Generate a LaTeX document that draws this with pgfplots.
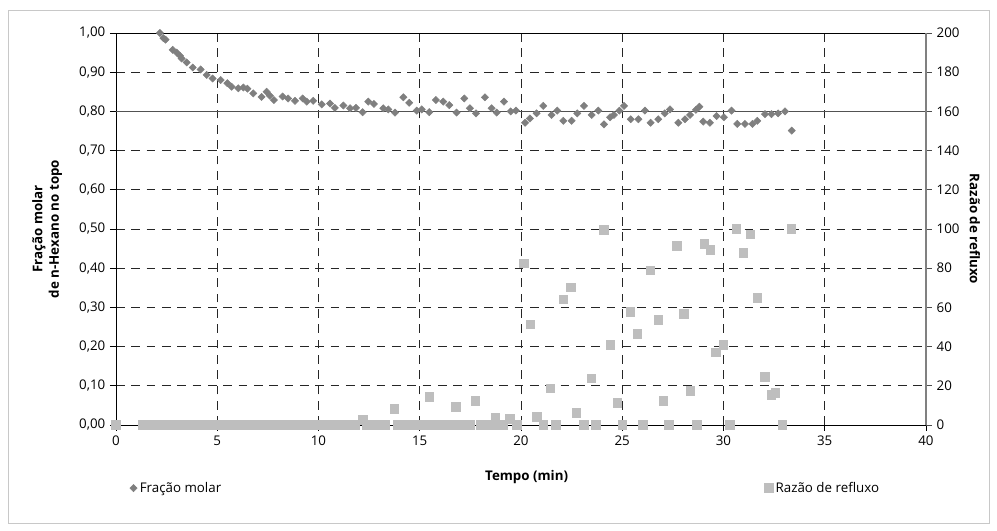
\documentclass[border=0pt]{standalone}
\usepackage{fontspec}
\setmainfont{Open Sans}
\usepackage{pgfplots}
\pgfplotsset{compat=1.18}
\definecolor{diam}{HTML}{7F7F7F}
\definecolor{sqr}{HTML}{BEBEBE}
\definecolor{frame}{HTML}{C8C8C8}
\begin{document}
\begin{tikzpicture}[font=\fontsize{10}{12}\selectfont]
\begin{axis}[
  scale only axis, width=607.5pt, height=294pt,
  xmin=0, xmax=40, ymin=0, ymax=1,
  axis x line*=bottom, axis y line*=left,
  axis line style={-, black, line width=0.6pt},
  xtick={0,5,10,15,20,25,30,35,40},
  ytick={0,0.1,0.2,0.3,0.4,0.5,0.6,0.7,0.8,0.9,1.0},
  yticklabel style={/pgf/number format/.cd, fixed, fixed zerofill, precision=2, use comma},
  /pgf/number format/assume math mode=true,
  tick label style={font=\fontsize{10}{12}\selectfont},
  tick align=outside, major tick length=4.5pt,
  tick style={black, line width=0.6pt},
  grid=major,
  major grid style={black!85, dash pattern=on 6.5pt off 5pt, line width=0.6pt},
  clip=false,
  xlabel={Tempo (min)},
  xlabel style={font=\fontsize{10}{12}\selectfont\bfseries, at={(rel axis cs:0.507,-0.133)}, anchor=center},
  ylabel={Fração molar\\de n-Hexano no topo},
  ylabel style={font=\fontsize{10}{12.5}\selectfont\bfseries, align=center, at={(rel axis cs:-0.085,0.5)}, anchor=center},
  legend style={draw=none, fill=none, at={(rel axis cs:0.012,-0.161)}, anchor=west, font=\fontsize{10}{12}\selectfont},
]
\draw[black, line width=0.6pt] (rel axis cs:0,1) -- (rel axis cs:1,1);
\addplot[only marks, mark=square*, mark size=1.9pt, color=diam, mark options={rotate=45, fill=diam, draw=diam}] coordinates {
(2.17,1.000) (2.34,0.987) (2.45,0.983) (2.80,0.957) (3.00,0.950) (3.16,0.942) (3.24,0.935)
(3.49,0.925) (3.79,0.912) (4.18,0.907) (4.48,0.893) (4.77,0.884) (5.17,0.880) (5.50,0.872)
(5.71,0.863) (6.04,0.859) (6.29,0.861) (6.49,0.858) (6.78,0.846) (7.19,0.837) (7.44,0.850)
(7.60,0.840) (7.80,0.829) (8.23,0.838) (8.50,0.833) (8.84,0.827) (9.22,0.833) (9.42,0.825)
(9.74,0.827) (10.16,0.818) (10.57,0.820) (10.81,0.809) (11.23,0.815) (11.56,0.808) (11.85,0.809)
(12.18,0.798) (12.46,0.825) (12.74,0.819) (13.20,0.808) (13.45,0.805) (13.78,0.797) (14.19,0.836)
(14.48,0.822) (14.85,0.802) (15.10,0.805) (15.47,0.798) (15.80,0.829) (16.16,0.825) (16.46,0.816)
(16.82,0.797) (17.20,0.833) (17.48,0.808) (17.78,0.795) (18.22,0.836) (18.55,0.808) (18.80,0.797)
(19.16,0.825) (19.49,0.800) (19.75,0.802) (20.20,0.771) (20.44,0.782) (20.77,0.795) (21.10,0.814)
(21.51,0.791) (21.79,0.802) (22.09,0.776) (22.50,0.776) (22.78,0.795) (23.11,0.814) (23.49,0.791)
(23.82,0.802) (24.10,0.767) (24.40,0.785) (24.59,0.791) (24.86,0.802) (25.09,0.814) (25.42,0.780)
(25.80,0.780) (26.12,0.802) (26.40,0.771) (26.78,0.780) (27.10,0.795) (27.36,0.805) (27.77,0.771)
(28.10,0.780) (28.35,0.791) (28.64,0.804) (28.81,0.812) (29.00,0.774) (29.33,0.771) (29.66,0.788)
(30.02,0.785) (30.40,0.802) (30.68,0.768) (31.06,0.768) (31.43,0.768) (31.67,0.776) (32.05,0.793)
(32.37,0.793) (32.70,0.795) (33.04,0.800) (33.37,0.751)
};
\addlegendentry{Fração molar}
\addplot[color=black!68, line width=1.1pt, forget plot] coordinates {(0,0.8) (40,0.8)};
\draw[frame, line width=0.7pt] (rel axis cs:-0.1333,-0.25) rectangle (rel axis cs:1.079,1.0587);
\path (rel axis cs:-0.1432,-0.2704) rectangle (rel axis cs:1.0877,1.0842);
\end{axis}
\begin{axis}[
  scale only axis, width=607.5pt, height=294pt,
  xmin=0, xmax=40, ymin=0, ymax=200,
  axis x line=none, axis y line*=right,
  y axis line style={-, draw=black!50, line width=1.4pt},
  ytick={0,20,40,60,80,100,120,140,160,180,200},
  /pgf/number format/assume math mode=true,
  tick label style={font=\fontsize{10}{12}\selectfont},
  tick align=outside, major tick length=4.5pt,
  tick style={black!70, line width=0.6pt},
  clip=false,
  ylabel={\mbox{Razão de refluxo}},
  ylabel style={font=\fontsize{10}{12}\selectfont\bfseries, rotate=180, at={(rel axis cs:1.0605,0.5)}, anchor=center},
  legend style={draw=none, fill=none, at={(rel axis cs:0.795,-0.161)}, anchor=west, font=\fontsize{10}{12}\selectfont},
]
\addplot[only marks, mark=square*, mark size=3.3pt, color=sqr, mark options={fill=sqr, draw=sqr}] coordinates {
(0,0)
(1.3,0) (1.6,0) (1.9,0) (2.2,0) (2.5,0) (2.8,0) (3.1,0) (3.4,0) (3.7,0) (4.0,0) (4.3,0) (4.6,0)
(4.9,0) (5.2,0) (5.5,0) (5.8,0) (6.1,0) (6.4,0) (6.7,0) (7.0,0) (7.3,0) (7.6,0) (7.9,0) (8.2,0)
(8.5,0) (8.8,0) (9.1,0) (9.4,0) (9.7,0) (10.0,0) (10.3,0) (10.6,0) (10.9,0) (11.2,0) (11.5,0) (11.8,0)
(12.17,2.5)
(12.4,0) (12.7,0) (13.0,0) (13.3,0)
(13.9,0) (14.2,0) (14.5,0) (14.8,0) (15.1,0) (15.4,0)
(15.6,0) (15.9,0) (16.2,0) (16.5,0) (16.7,0)
(16.9,0) (17.2,0) (17.5,0)
(18.0,0) (18.3,0) (18.6,0)
(19.1,0) (19.8,0) (21.1,0) (21.7,0) (23.1,0) (23.7,0) (25.0,0) (26.0,0) (27.3,0) (28.7,0) (30.3,0) (32.9,0)
(13.74,8.3) (15.47,14.4) (16.76,9.3) (17.74,12.4) (18.73,3.9) (19.46,3.2)
(20.15,82.5) (20.46,51.4) (20.76,4.3) (21.45,18.7) (22.09,64.1) (22.44,70.3) (22.73,6.3)
(23.47,23.8) (24.07,99.5) (24.41,41.0) (24.76,11.4) (25.40,57.8) (25.74,46.6) (26.38,78.9)
(26.78,53.7) (27.03,12.4) (27.69,91.3) (28.02,56.6) (28.36,17.5) (29.05,92.3) (29.35,89.4)
(29.60,37.1) (29.99,41.0) (30.63,100.2) (30.98,87.9) (31.32,97.3) (31.67,65.0) (32.02,24.7)
(32.36,15.3) (32.56,16.5) (33.35,100.2)
};
\addlegendentry{Razão de refluxo}
\end{axis}
\end{tikzpicture}
\end{document}
